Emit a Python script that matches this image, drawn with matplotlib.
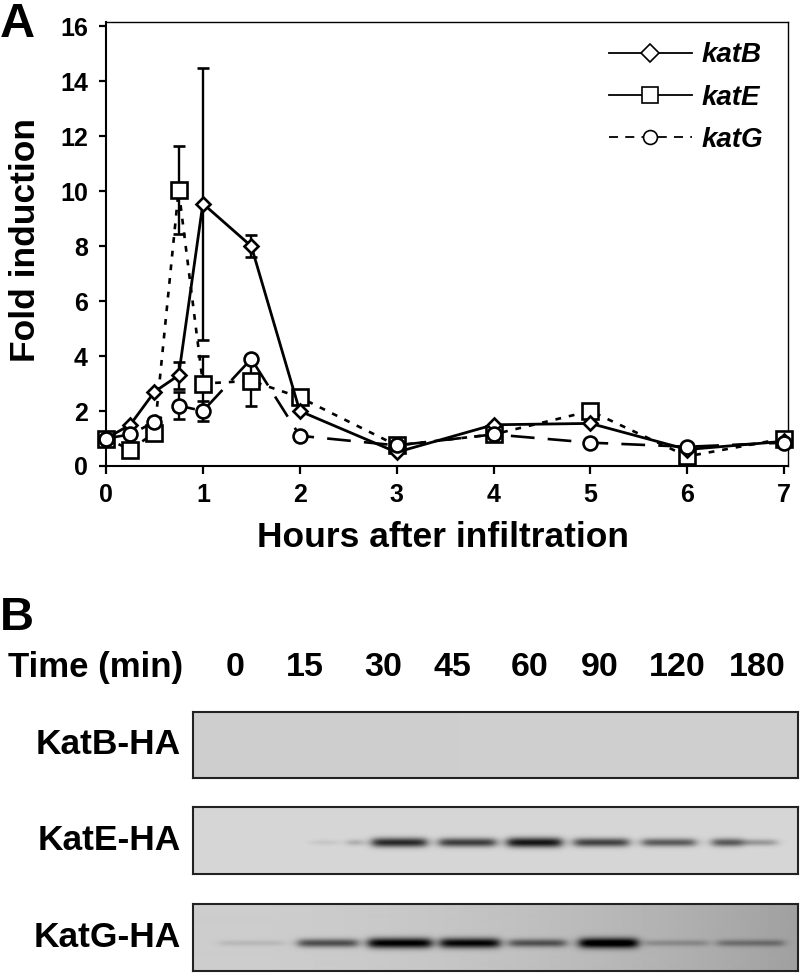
import numpy as np
import matplotlib
matplotlib.use("Agg")
import matplotlib.pyplot as plt
from matplotlib.lines import Line2D

plt.rcParams["font.family"] = ["Liberation Sans", "DejaVu Sans"]
plt.rcParams["font.weight"] = "bold"

W, H = 800, 973

# Panel A
hours = [0, 0.25, 0.5, 0.75, 1, 1.5, 2, 3, 4, 5, 6, 7]
katB = [1.0, 1.5, 2.7, 3.3, 9.55, 8.0, 2.0, 0.5, 1.5, 1.55, 0.6, 0.9]
katE = [1.0, 0.6, 1.2, 10.05, 3.0, 3.1, 2.5, 0.75, 1.15, 2.0, 0.35, 1.0]
katG = [1.0, 1.15, 1.6, 2.2, 2.0, 3.9, 1.1, 0.75, 1.15, 0.85, 0.7, 0.85]
katB_err_lo = [0, 0, 0, 0.5, 4.95, 0.4, 0, 0, 0, 0, 0, 0]
katB_err_hi = [0, 0, 0, 0.5, 4.95, 0.4, 0, 0, 0, 0, 0, 0]
katE_err_lo = [0, 0, 0, 1.6, 1.0, 0.9, 0, 0, 0, 0, 0, 0]
katE_err_hi = [0, 0, 0, 1.6, 1.0, 0.9, 0, 0, 0, 0, 0, 0]
katG_err_lo = [0, 0, 0, 0.5, 0.35, 0, 0, 0, 0, 0, 0, 0]
katG_err_hi = [0, 0, 0, 0.5, 0.35, 0, 0, 0, 0, 0, 0, 0]
x_ticks = [0, 1, 2, 3, 4, 5, 6, 7]
y_ticks = [0, 2, 4, 6, 8, 10, 12, 14, 16]

# Panel B
lane_labels = ["0", "15", "30", "45", "60", "90", "120", "180"]
lane_px = [235, 305, 383, 452, 530, 600, 677, 757]
blot_names = ["KatB-HA", "KatE-HA", "KatG-HA"]
blot_tops = [712, 807, 904]
blot_bottoms = [778, 874, 971]
blot_band_y = [745, 842, 943]
# start px, end px, darkness
bands_katB = []
bands_katE = [(311, 337, 0.08), (347, 362, 0.22), (372, 426, 0.85), (439, 495, 0.75),
              (507, 561, 0.95), (574, 628, 0.72), (642, 695, 0.6), (712, 742, 0.62), (742, 776, 0.3)]
bands_katG = [(219, 283, 0.1), (298, 357, 0.62), (368, 431, 1.0), (440, 499, 0.95),
              (509, 565, 0.55), (579, 637, 1.0), (645, 707, 0.2), (717, 783, 0.3)]
# background grey at left and right end
back_left = [206, 214, 205]
back_right = [207, 214, 160]


def rect(x0, y0, x1, y1):
    return [x0 / W, 1 - y1 / H, (x1 - x0) / W, (y1 - y0) / H]


fig = plt.figure(figsize=(W / 100, H / 100), dpi=100)
ax = fig.add_axes(rect(106, 22, 788, 466))

style = dict(color="black", mfc="white", mew=1.9, capsize=4.5, capthick=1.7,
             elinewidth=1.7, clip_on=False)
ax.errorbar(hours, katE, yerr=[katE_err_lo, katE_err_hi], marker="s", ms=11,
            lw=1.9, ls=(0, (2.2, 3)), zorder=3, **style)
ax.errorbar(hours, katB, yerr=[katB_err_lo, katB_err_hi], marker="D", ms=7.5,
            lw=2.0, ls="-", zorder=4, **style)
ax.errorbar(hours, katG, yerr=[katG_err_lo, katG_err_hi], marker="o", ms=10,
            lw=1.9, ls=(0, (9, 5)), zorder=5, **style)

# axis runs a little past the last ticks, where the frame closes
ax.set_xlim(0, 7.04)
ax.set_ylim(0, 16.16)
ax.set_xticks(x_ticks)
ax.set_yticks(y_ticks)
ax.tick_params(axis="y", length=5, width=1.6, labelsize=18, pad=8)
ax.tick_params(axis="x", length=5.5, width=1.6, labelsize=18, pad=7)
for s in ["top", "right"]:
    ax.spines[s].set_linewidth(1.0)
for s in ["left", "bottom"]:
    ax.spines[s].set_linewidth(1.5)
ax.set_xlabel("Hours after infiltration", fontsize=25.5, fontweight="bold", labelpad=10, x=0.494)
ax.set_ylabel("Fold induction", fontsize=25.5, fontweight="bold", labelpad=13, y=0.509)

handles = [
    Line2D([0], [0], color="black", lw=1.3, marker="D", ms=9, mfc="white", mew=1.2),
    Line2D([0], [0], color="black", lw=1.3, marker="s", ms=12, mfc="white", mew=1.2),
    Line2D([0], [0], color="black", lw=1.3, ls=(0, (5, 4)), marker="o", ms=10, mfc="white", mew=1.2),
]
leg = ax.legend(handles, ["katB", "katE", "katG"], frameon=False,
                prop=dict(size=20, style="italic", weight="bold"), handlelength=3.0,
                labelspacing=0.58, handletextpad=0.32, loc="upper left",
                bbox_to_anchor=(0.721, 0.979), borderaxespad=0)

fig.text(0 / W, 1 - 37 / H, "A", fontsize=35, va="baseline", ha="left")
fig.text(0 / W, 1 - 630 / H, "B", fontsize=34, va="baseline", ha="left")
fig.text(8 / W, 1 - 668 / H, "Time (min)", fontsize=25, va="center", ha="left")
for lab, px in zip(lane_labels, lane_px):
    fig.text(px / W, 1 - 668 / H, lab, fontsize=24.5, va="center", ha="center")

all_bands = [bands_katB, bands_katE, bands_katG]
for i, name in enumerate(blot_names):
    x0, x1 = 193, 798
    y0, y1 = blot_tops[i], blot_bottoms[i]
    xs = np.arange(x0, x1)
    ys = np.arange(y0, y1)
    xx, yy = np.meshgrid(xs, ys)
    img = back_left[i] + (back_right[i] - back_left[i]) * ((xx - x0) / (x1 - x0)) ** 2
    for a, b, d in all_bands[i]:
        prof = 1 / (1 + np.exp(-(xx - a) / 3.0)) * 1 / (1 + np.exp((xx - b) / 3.0))
        thick = 2.6 + 2.5 * d
        img = img - d * 205 * prof * np.exp(-((yy - blot_band_y[i]) / thick) ** 2)
    bax = fig.add_axes(rect(x0, y0, x1, y1))
    bax.imshow(np.clip(img, 0, 255), cmap="gray", vmin=0, vmax=255, aspect="auto",
               interpolation="bilinear")
    bax.set_xticks([])
    bax.set_yticks([])
    for s in bax.spines.values():
        s.set_linewidth(1.5)
        s.set_color("#222222")
    fig.text(181 / W, 1 - (y0 + y1) / 2 / H, name, fontsize=25.5, va="center", ha="right")

fig.savefig("out.png", dpi=100)
